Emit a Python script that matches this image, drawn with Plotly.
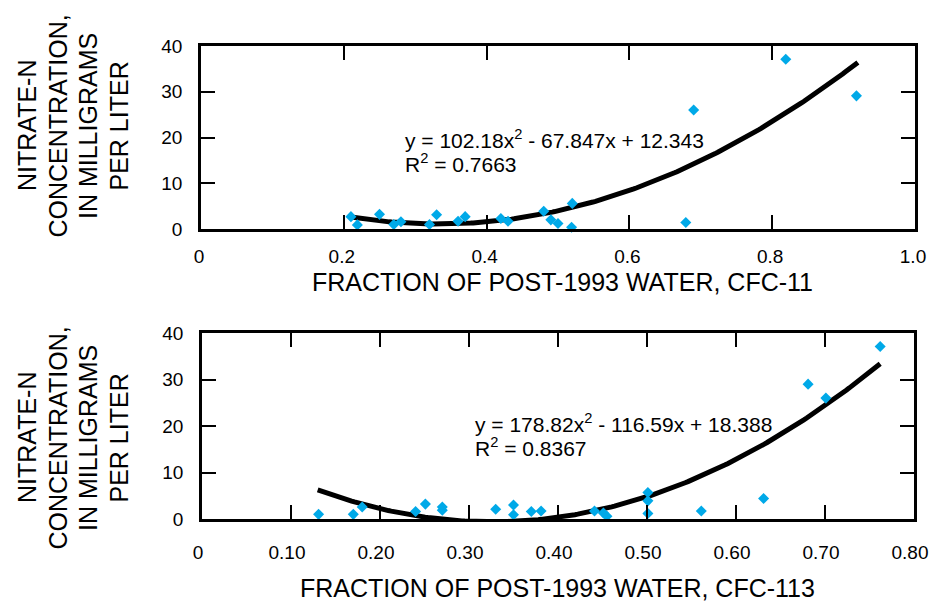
import numpy as np
import plotly.graph_objects as go

# ---- Data: top panel (CFC-11) ----
cfc11_x = [0.210, 0.219, 0.250, 0.270, 0.280, 0.320, 0.330, 0.360, 0.370, 0.420, 0.430,
           0.480, 0.490, 0.500, 0.520, 0.519, 0.679, 0.690, 0.819, 0.918]
cfc11_y = [2.7, 0.9, 3.2, 1.0, 1.6, 1.0, 3.1, 1.7, 2.7, 2.3, 1.7,
           3.9, 2.0, 1.2, 5.6, 0.4, 1.4, 26.0, 37.1, 29.1]
cfc11_coef = [102.18, -67.847, 12.343]
cfc11_r2 = "0.7663"
cfc11_range = [0.21, 0.92]

# ---- Data: bottom panel (CFC-113) ----
cfc113_x = [0.131, 0.170, 0.180, 0.240, 0.251, 0.270, 0.270, 0.330, 0.350, 0.350, 0.370,
            0.381, 0.441, 0.451, 0.455, 0.501, 0.501, 0.501, 0.561, 0.631, 0.681, 0.701, 0.762]
cfc113_y = [1.0, 1.0, 2.6, 1.6, 3.2, 2.6, 1.9, 2.1, 3.0, 0.9, 1.6,
            1.7, 1.7, 1.3, 0.6, 5.7, 3.9, 1.2, 1.7, 4.4, 29.0, 26.0, 37.1]
cfc113_coef = [178.82, -116.59, 18.388]
cfc113_r2 = "0.8367"
cfc113_range = [0.13, 0.762]

top_ticks = [0, 0.2, 0.4, 0.6, 0.8, 1.0]
top_ticktext = ["0", "0.2", "0.4", "0.6", "0.8", "1.0"]
bot_ticks = [0, 0.1, 0.2, 0.3, 0.4, 0.5, 0.6, 0.7, 0.8]
bot_ticktext = ["0", "0.10", "0.20", "0.30", "0.40", "0.50", "0.60", "0.70", "0.80"]
y_ticks = [0, 10, 20, 30, 40]

ytitle_lines = ["NITRATE-N", "CONCENTRATION,", "IN MILLIGRAMS", "PER LITER"]

W, H = 930, 606
FONT = "Liberation Sans, Arial, sans-serif"
BLUE = "#00A9E8"


def trend(coef, rng):
    xs = np.linspace(rng[0], rng[1], 200)
    return xs, coef[0] * xs ** 2 + coef[1] * xs + coef[2]


fig = go.Figure()

tx, ty = trend(cfc11_coef, cfc11_range)
fig.add_trace(go.Scatter(x=tx, y=ty, mode="lines", line=dict(color="black", width=5),
                         xaxis="x", yaxis="y", showlegend=False, hoverinfo="skip"))
fig.add_trace(go.Scatter(x=cfc11_x, y=cfc11_y, mode="markers", cliponaxis=False,
                         marker=dict(symbol="diamond", size=8.5, color=BLUE),
                         xaxis="x", yaxis="y", showlegend=False))

tx2, ty2 = trend(cfc113_coef, cfc113_range)
fig.add_trace(go.Scatter(x=tx2, y=ty2, mode="lines", line=dict(color="black", width=5),
                         xaxis="x2", yaxis="y2", showlegend=False, hoverinfo="skip"))
fig.add_trace(go.Scatter(x=cfc113_x, y=cfc113_y, mode="markers", cliponaxis=False,
                         marker=dict(symbol="diamond", size=8.5, color=BLUE),
                         xaxis="x2", yaxis="y2", showlegend=False))

axis_common = dict(showline=True, linewidth=2.5, linecolor="black", mirror="ticks",
                   ticks="inside", ticklen=14, tickwidth=1.5, tickcolor="black",
                   showgrid=False, zeroline=False, automargin=False,
                   ticklabeloverflow="allow",
                   tickfont=dict(family=FONT, size=19, color="black"))

fig.update_layout(
    width=W, height=H, margin=dict(l=0, r=0, t=0, b=0, autoexpand=False),
    paper_bgcolor="white", plot_bgcolor="white",
    font=dict(family=FONT, color="black"),
    xaxis=dict(domain=[201 / W, 915 / W], range=[0, 1.0], tickvals=top_ticks,
               ticktext=top_ticktext, anchor="y", ticklabelstandoff=8,
               ticklabelshift=-2, **axis_common),
    yaxis=dict(domain=[1 - 229 / H, 1 - 46 / H], range=[0, 40], tickvals=y_ticks,
               anchor="x", ticklabelstandoff=12, **axis_common),
    xaxis2=dict(domain=[202 / W, 914 / W], range=[0, 0.8], tickvals=bot_ticks,
                ticktext=bot_ticktext, anchor="y2", ticklabelstandoff=14,
                ticklabelshift=-4, **axis_common),
    yaxis2=dict(domain=[1 - 519 / H, 1 - 333 / H], range=[0, 40], tickvals=y_ticks,
                anchor="x2", ticklabelstandoff=12, **axis_common),
)

ann = []


def px_ann(text, x, y, size, xanchor="center", angle=0):
    ann.append(dict(text=text, xref="paper", yref="paper", x=x / W, y=1 - y / H,
                    xanchor=xanchor, yanchor="middle", showarrow=False, textangle=angle,
                    font=dict(family=FONT, size=size, color="black")))


# x titles
px_ann("FRACTION OF POST-1993 WATER, CFC-11", 562, 282, 25)
px_ann("FRACTION OF POST-1993 WATER, CFC-113", 557, 588, 25)

# y titles (each line positioned)
for i, line in enumerate(ytitle_lines):
    px_ann(line, 27 + 30.5 * i, 126, 25, angle=-90)
    px_ann(line, 27 + 30.5 * i, 438, 25, angle=-90)


def eq_text(coef):
    a, b, c = coef
    sb = "-" if b < 0 else "+"
    sc = "-" if c < 0 else "+"
    return f"y = {a:g}x<sup>2</sup> {sb} {abs(b):g}x {sc} {abs(c):g}"


px_ann(eq_text(cfc11_coef), 403, 139, 21, xanchor="left")
px_ann(f"R<sup>2</sup> = {cfc11_r2}", 403, 163, 21, xanchor="left")
px_ann(eq_text(cfc113_coef), 473, 423, 21, xanchor="left")
px_ann(f"R<sup>2</sup> = {cfc113_r2}", 473, 447, 21, xanchor="left")

fig.update_layout(annotations=ann)
fig.write_html("out.html")
